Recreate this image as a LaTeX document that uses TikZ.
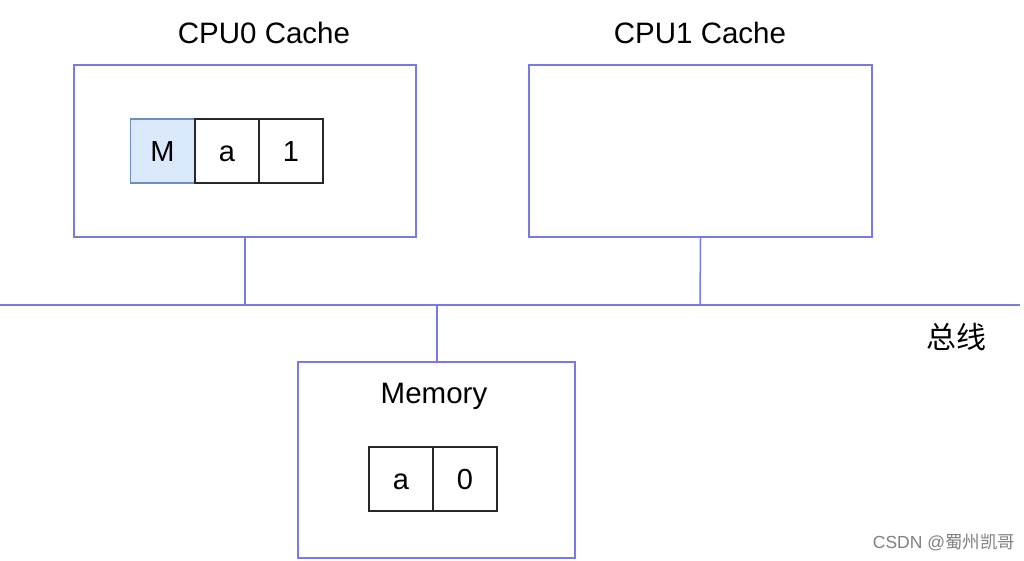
\documentclass[tikz,border=0pt]{standalone}
\usepackage{fontspec}
\setmainfont{Liberation Sans}
\newfontfamily\cjk{Noto Sans CJK SC}
\definecolor{busblue}{RGB}{122,122,228}
\definecolor{mfill}{RGB}{218,232,252}
\definecolor{mline}{RGB}{108,142,191}
\definecolor{cellline}{RGB}{40,40,40}
\tikzset{
  frame/.style={draw=busblue, line width=1.5pt, minimum width=#1, inner sep=0pt},
  cell/.style={draw=cellline, line width=1.5pt, minimum width=64pt, minimum height=64pt, inner sep=0pt, text height=20.8pt, text depth=0pt, font=\fontsize{29}{34}\selectfont},
  title/.style={font=\fontsize{29.5}{34}\selectfont, inner sep=0pt, text height=21.1pt, text depth=0pt},
  link/.style={draw=busblue, line width=1.5pt}
}
\begin{document}
\begin{tikzpicture}[x=1pt,y=-1pt]
\useasboundingbox[fill=white] (0,0) rectangle (1024,560);
% boxes
\node[frame=342pt, minimum height=172pt] (cpu0) at (245,151) {};
\node[frame=343pt, minimum height=172pt] (cpu1) at (700.5,151) {};
\node[frame=277pt, minimum height=196pt] (mem) at (436.5,460) {};
% titles
\node[title] (t0) at (264,33) {CPU0 Cache};
\node[title] (t1) at (700,33) {CPU1 Cache};
\node[title] (tm) at (434,393) {Memory};
\node[font=\cjk\fontsize{30}{34}\selectfont, inner sep=0pt] (bus label) at (956,337) {总线};
% cells
\node[cell, fill=mfill, draw=mline] (cM) at (162.5,151) {M};
\node[cell] (ca) at (227,151) {a};
\node[cell] (c1) at (291,151) {1};
\node[cell] (ma) at (401,479) {a};
\node[cell] (m0) at (465,479) {0};
% bus
\coordinate (busL) at (0,305);
\coordinate (busR) at (1020,305);
\draw[link] (busL) -- (busR);
\coordinate (j0) at (245,305);
\coordinate (j1) at (700,305);
\coordinate (jm) at (437,305);
\draw[link] (cpu0.south) -- (j0);
\draw[link] (cpu1.south) -- (j1);
\draw[link] (jm) -- (jm |- mem.north);
% watermark
\node[font=\fontsize{17.5}{20}\selectfont, text=black!50, inner sep=0pt] (wm) at (944,542) {CSDN @{\cjk 蜀州凯哥}};
\end{tikzpicture}
\end{document}
